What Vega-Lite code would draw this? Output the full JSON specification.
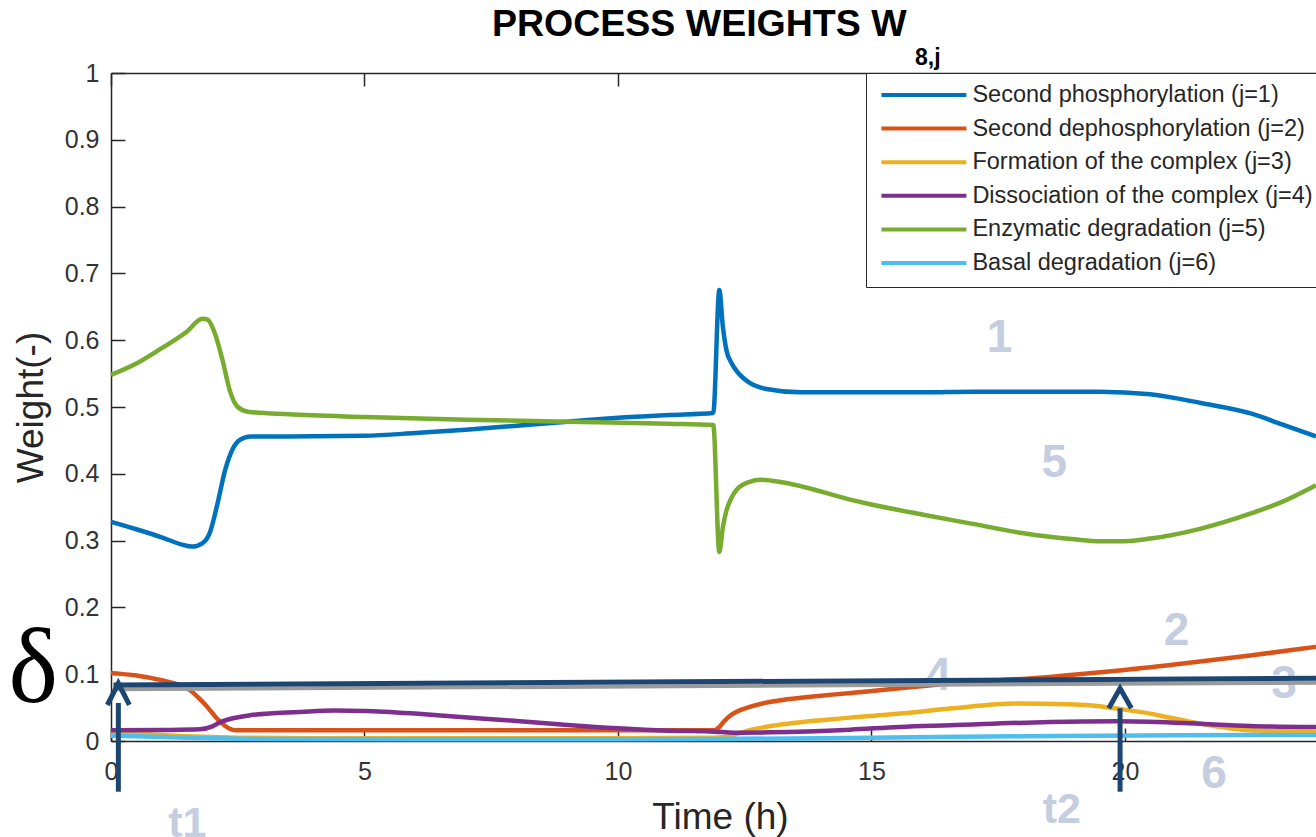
{
  "$schema": "https://vega.github.io/schema/vega-lite/v6.json",
  "autosize": {"type": "none"},
  "width": 1205,
  "height": 668,
  "padding": {"left": 111, "top": 73, "right": 0, "bottom": 96},
  "background": "white",
  "config": {"font": "Liberation Sans", "view": {"stroke": null}},
  "title": {"text": "PROCESS WEIGHTS W", "anchor": "start", "frame": "group", "dx": 381, "dy": 35, "fontSize": 37.5, "fontWeight": "bold", "color": "#000000", "font": "Liberation Sans", "baseline": "alphabetic", "offset": 8},
  "datasets": {
    "curves": [
      {"s": "Second phosphorylation (j=1)", "t": 0, "v": 0.328},
      {"s": "Second phosphorylation (j=1)", "t": 0.5, "v": 0.317},
      {"s": "Second phosphorylation (j=1)", "t": 1.0, "v": 0.305},
      {"s": "Second phosphorylation (j=1)", "t": 1.4, "v": 0.294},
      {"s": "Second phosphorylation (j=1)", "t": 1.6, "v": 0.291},
      {"s": "Second phosphorylation (j=1)", "t": 1.8, "v": 0.296},
      {"s": "Second phosphorylation (j=1)", "t": 1.95, "v": 0.312},
      {"s": "Second phosphorylation (j=1)", "t": 2.1, "v": 0.355},
      {"s": "Second phosphorylation (j=1)", "t": 2.25, "v": 0.405},
      {"s": "Second phosphorylation (j=1)", "t": 2.4, "v": 0.437},
      {"s": "Second phosphorylation (j=1)", "t": 2.55, "v": 0.451},
      {"s": "Second phosphorylation (j=1)", "t": 2.75, "v": 0.456},
      {"s": "Second phosphorylation (j=1)", "t": 3.5, "v": 0.456},
      {"s": "Second phosphorylation (j=1)", "t": 5, "v": 0.457},
      {"s": "Second phosphorylation (j=1)", "t": 6, "v": 0.461},
      {"s": "Second phosphorylation (j=1)", "t": 7, "v": 0.466},
      {"s": "Second phosphorylation (j=1)", "t": 8, "v": 0.472},
      {"s": "Second phosphorylation (j=1)", "t": 9, "v": 0.478},
      {"s": "Second phosphorylation (j=1)", "t": 10, "v": 0.484},
      {"s": "Second phosphorylation (j=1)", "t": 11, "v": 0.488},
      {"s": "Second phosphorylation (j=1)", "t": 11.88, "v": 0.491},
      {"s": "Second phosphorylation (j=1)", "t": 12.0, "v": 0.675},
      {"s": "Second phosphorylation (j=1)", "t": 12.07, "v": 0.62},
      {"s": "Second phosphorylation (j=1)", "t": 12.14, "v": 0.585},
      {"s": "Second phosphorylation (j=1)", "t": 12.24, "v": 0.566},
      {"s": "Second phosphorylation (j=1)", "t": 12.34, "v": 0.554},
      {"s": "Second phosphorylation (j=1)", "t": 12.6, "v": 0.536},
      {"s": "Second phosphorylation (j=1)", "t": 12.93, "v": 0.527},
      {"s": "Second phosphorylation (j=1)", "t": 13.6, "v": 0.522},
      {"s": "Second phosphorylation (j=1)", "t": 14.6, "v": 0.522},
      {"s": "Second phosphorylation (j=1)", "t": 16, "v": 0.522},
      {"s": "Second phosphorylation (j=1)", "t": 17, "v": 0.523},
      {"s": "Second phosphorylation (j=1)", "t": 18, "v": 0.523},
      {"s": "Second phosphorylation (j=1)", "t": 19, "v": 0.523},
      {"s": "Second phosphorylation (j=1)", "t": 19.5, "v": 0.523},
      {"s": "Second phosphorylation (j=1)", "t": 20.5, "v": 0.519},
      {"s": "Second phosphorylation (j=1)", "t": 21.5, "v": 0.506},
      {"s": "Second phosphorylation (j=1)", "t": 22.5, "v": 0.49},
      {"s": "Second phosphorylation (j=1)", "t": 23.1, "v": 0.474},
      {"s": "Second phosphorylation (j=1)", "t": 23.77, "v": 0.456},

      {"s": "Second dephosphorylation (j=2)", "t": 0, "v": 0.102},
      {"s": "Second dephosphorylation (j=2)", "t": 0.5, "v": 0.098},
      {"s": "Second dephosphorylation (j=2)", "t": 1.0, "v": 0.091},
      {"s": "Second dephosphorylation (j=2)", "t": 1.3, "v": 0.085},
      {"s": "Second dephosphorylation (j=2)", "t": 1.56, "v": 0.076},
      {"s": "Second dephosphorylation (j=2)", "t": 1.75, "v": 0.063},
      {"s": "Second dephosphorylation (j=2)", "t": 1.9, "v": 0.051},
      {"s": "Second dephosphorylation (j=2)", "t": 2.05, "v": 0.037},
      {"s": "Second dephosphorylation (j=2)", "t": 2.15, "v": 0.029},
      {"s": "Second dephosphorylation (j=2)", "t": 2.3, "v": 0.02},
      {"s": "Second dephosphorylation (j=2)", "t": 2.45, "v": 0.016},
      {"s": "Second dephosphorylation (j=2)", "t": 3, "v": 0.016},
      {"s": "Second dephosphorylation (j=2)", "t": 6, "v": 0.016},
      {"s": "Second dephosphorylation (j=2)", "t": 9, "v": 0.016},
      {"s": "Second dephosphorylation (j=2)", "t": 11.9, "v": 0.016},
      {"s": "Second dephosphorylation (j=2)", "t": 12.0, "v": 0.021},
      {"s": "Second dephosphorylation (j=2)", "t": 12.1, "v": 0.030},
      {"s": "Second dephosphorylation (j=2)", "t": 12.2, "v": 0.037},
      {"s": "Second dephosphorylation (j=2)", "t": 12.35, "v": 0.044},
      {"s": "Second dephosphorylation (j=2)", "t": 12.6, "v": 0.051},
      {"s": "Second dephosphorylation (j=2)", "t": 12.9, "v": 0.057},
      {"s": "Second dephosphorylation (j=2)", "t": 13.3, "v": 0.062},
      {"s": "Second dephosphorylation (j=2)", "t": 13.9, "v": 0.067},
      {"s": "Second dephosphorylation (j=2)", "t": 14.6, "v": 0.072},
      {"s": "Second dephosphorylation (j=2)", "t": 15.56, "v": 0.079},
      {"s": "Second dephosphorylation (j=2)", "t": 16.55, "v": 0.086},
      {"s": "Second dephosphorylation (j=2)", "t": 18.52, "v": 0.096},
      {"s": "Second dephosphorylation (j=2)", "t": 19.84, "v": 0.105},
      {"s": "Second dephosphorylation (j=2)", "t": 21.15, "v": 0.116},
      {"s": "Second dephosphorylation (j=2)", "t": 22.47, "v": 0.128},
      {"s": "Second dephosphorylation (j=2)", "t": 23.77, "v": 0.141},

      {"s": "Formation of the complex (j=3)", "t": 0, "v": 0.013},
      {"s": "Formation of the complex (j=3)", "t": 0.5, "v": 0.011},
      {"s": "Formation of the complex (j=3)", "t": 1.0, "v": 0.009},
      {"s": "Formation of the complex (j=3)", "t": 1.5, "v": 0.007},
      {"s": "Formation of the complex (j=3)", "t": 2.0, "v": 0.006},
      {"s": "Formation of the complex (j=3)", "t": 2.5, "v": 0.005},
      {"s": "Formation of the complex (j=3)", "t": 4, "v": 0.004},
      {"s": "Formation of the complex (j=3)", "t": 8, "v": 0.004},
      {"s": "Formation of the complex (j=3)", "t": 11.9, "v": 0.005},
      {"s": "Formation of the complex (j=3)", "t": 12.2, "v": 0.007},
      {"s": "Formation of the complex (j=3)", "t": 12.4, "v": 0.012},
      {"s": "Formation of the complex (j=3)", "t": 12.7, "v": 0.018},
      {"s": "Formation of the complex (j=3)", "t": 13.26, "v": 0.025},
      {"s": "Formation of the complex (j=3)", "t": 14.58, "v": 0.035},
      {"s": "Formation of the complex (j=3)", "t": 15.56, "v": 0.041},
      {"s": "Formation of the complex (j=3)", "t": 16.55, "v": 0.0485},
      {"s": "Formation of the complex (j=3)", "t": 17.87, "v": 0.056},
      {"s": "Formation of the complex (j=3)", "t": 18.85, "v": 0.055},
      {"s": "Formation of the complex (j=3)", "t": 19.5, "v": 0.052},
      {"s": "Formation of the complex (j=3)", "t": 19.84, "v": 0.0485},
      {"s": "Formation of the complex (j=3)", "t": 20.5, "v": 0.041},
      {"s": "Formation of the complex (j=3)", "t": 20.82, "v": 0.036},
      {"s": "Formation of the complex (j=3)", "t": 21.48, "v": 0.026},
      {"s": "Formation of the complex (j=3)", "t": 22.47, "v": 0.016},
      {"s": "Formation of the complex (j=3)", "t": 23.77, "v": 0.014},

      {"s": "Dissociation of the complex (j=4)", "t": 0, "v": 0.016},
      {"s": "Dissociation of the complex (j=4)", "t": 1.0, "v": 0.0165},
      {"s": "Dissociation of the complex (j=4)", "t": 1.75, "v": 0.0175},
      {"s": "Dissociation of the complex (j=4)", "t": 2.0, "v": 0.022},
      {"s": "Dissociation of the complex (j=4)", "t": 2.15, "v": 0.028},
      {"s": "Dissociation of the complex (j=4)", "t": 2.4, "v": 0.034},
      {"s": "Dissociation of the complex (j=4)", "t": 2.74, "v": 0.0385},
      {"s": "Dissociation of the complex (j=4)", "t": 3.2, "v": 0.0415},
      {"s": "Dissociation of the complex (j=4)", "t": 3.73, "v": 0.0435},
      {"s": "Dissociation of the complex (j=4)", "t": 4.4, "v": 0.0455},
      {"s": "Dissociation of the complex (j=4)", "t": 5, "v": 0.045},
      {"s": "Dissociation of the complex (j=4)", "t": 6, "v": 0.041},
      {"s": "Dissociation of the complex (j=4)", "t": 6.7, "v": 0.037},
      {"s": "Dissociation of the complex (j=4)", "t": 8, "v": 0.03},
      {"s": "Dissociation of the complex (j=4)", "t": 9, "v": 0.024},
      {"s": "Dissociation of the complex (j=4)", "t": 10, "v": 0.019},
      {"s": "Dissociation of the complex (j=4)", "t": 11, "v": 0.0155},
      {"s": "Dissociation of the complex (j=4)", "t": 11.9, "v": 0.014},
      {"s": "Dissociation of the complex (j=4)", "t": 12.3, "v": 0.0125},
      {"s": "Dissociation of the complex (j=4)", "t": 13, "v": 0.013},
      {"s": "Dissociation of the complex (j=4)", "t": 14.58, "v": 0.017},
      {"s": "Dissociation of the complex (j=4)", "t": 15.56, "v": 0.021},
      {"s": "Dissociation of the complex (j=4)", "t": 16.55, "v": 0.0235},
      {"s": "Dissociation of the complex (j=4)", "t": 18.52, "v": 0.0285},
      {"s": "Dissociation of the complex (j=4)", "t": 19.84, "v": 0.0295},
      {"s": "Dissociation of the complex (j=4)", "t": 21.15, "v": 0.027},
      {"s": "Dissociation of the complex (j=4)", "t": 22.47, "v": 0.0225},
      {"s": "Dissociation of the complex (j=4)", "t": 23.77, "v": 0.021},

      {"s": "Enzymatic degradation (j=5)", "t": 0, "v": 0.548},
      {"s": "Enzymatic degradation (j=5)", "t": 0.5, "v": 0.565},
      {"s": "Enzymatic degradation (j=5)", "t": 1.0, "v": 0.588},
      {"s": "Enzymatic degradation (j=5)", "t": 1.5, "v": 0.613},
      {"s": "Enzymatic degradation (j=5)", "t": 1.8, "v": 0.632},
      {"s": "Enzymatic degradation (j=5)", "t": 1.9, "v": 0.631},
      {"s": "Enzymatic degradation (j=5)", "t": 2.05, "v": 0.61},
      {"s": "Enzymatic degradation (j=5)", "t": 2.2, "v": 0.57},
      {"s": "Enzymatic degradation (j=5)", "t": 2.35, "v": 0.523},
      {"s": "Enzymatic degradation (j=5)", "t": 2.5, "v": 0.5},
      {"s": "Enzymatic degradation (j=5)", "t": 2.7, "v": 0.493},
      {"s": "Enzymatic degradation (j=5)", "t": 3.5, "v": 0.489},
      {"s": "Enzymatic degradation (j=5)", "t": 5, "v": 0.485},
      {"s": "Enzymatic degradation (j=5)", "t": 7, "v": 0.481},
      {"s": "Enzymatic degradation (j=5)", "t": 9, "v": 0.478},
      {"s": "Enzymatic degradation (j=5)", "t": 11, "v": 0.475},
      {"s": "Enzymatic degradation (j=5)", "t": 11.88, "v": 0.473},
      {"s": "Enzymatic degradation (j=5)", "t": 12.0, "v": 0.283},
      {"s": "Enzymatic degradation (j=5)", "t": 12.07, "v": 0.32},
      {"s": "Enzymatic degradation (j=5)", "t": 12.14, "v": 0.345},
      {"s": "Enzymatic degradation (j=5)", "t": 12.24, "v": 0.364},
      {"s": "Enzymatic degradation (j=5)", "t": 12.34, "v": 0.376},
      {"s": "Enzymatic degradation (j=5)", "t": 12.6, "v": 0.388},
      {"s": "Enzymatic degradation (j=5)", "t": 12.8, "v": 0.391},
      {"s": "Enzymatic degradation (j=5)", "t": 13.26, "v": 0.387},
      {"s": "Enzymatic degradation (j=5)", "t": 14.6, "v": 0.361},
      {"s": "Enzymatic degradation (j=5)", "t": 15, "v": 0.354},
      {"s": "Enzymatic degradation (j=5)", "t": 16, "v": 0.339},
      {"s": "Enzymatic degradation (j=5)", "t": 17, "v": 0.325},
      {"s": "Enzymatic degradation (j=5)", "t": 18, "v": 0.311},
      {"s": "Enzymatic degradation (j=5)", "t": 19, "v": 0.302},
      {"s": "Enzymatic degradation (j=5)", "t": 19.5, "v": 0.299},
      {"s": "Enzymatic degradation (j=5)", "t": 20, "v": 0.299},
      {"s": "Enzymatic degradation (j=5)", "t": 20.5, "v": 0.303},
      {"s": "Enzymatic degradation (j=5)", "t": 21.5, "v": 0.318},
      {"s": "Enzymatic degradation (j=5)", "t": 22.5, "v": 0.341},
      {"s": "Enzymatic degradation (j=5)", "t": 23.1, "v": 0.358},
      {"s": "Enzymatic degradation (j=5)", "t": 23.77, "v": 0.383},

      {"s": "Basal degradation (j=6)", "t": 0, "v": 0.008},
      {"s": "Basal degradation (j=6)", "t": 1, "v": 0.006},
      {"s": "Basal degradation (j=6)", "t": 2, "v": 0.004},
      {"s": "Basal degradation (j=6)", "t": 3, "v": 0.003},
      {"s": "Basal degradation (j=6)", "t": 6, "v": 0.0025},
      {"s": "Basal degradation (j=6)", "t": 10, "v": 0.0025},
      {"s": "Basal degradation (j=6)", "t": 12, "v": 0.003},
      {"s": "Basal degradation (j=6)", "t": 15, "v": 0.005},
      {"s": "Basal degradation (j=6)", "t": 18, "v": 0.007},
      {"s": "Basal degradation (j=6)", "t": 21, "v": 0.0085},
      {"s": "Basal degradation (j=6)", "t": 23.77, "v": 0.009}
    ],
    "digits": [
      {"label": "1", "t": 17.53, "v": 0.5828},
      {"label": "5", "t": 18.61, "v": 0.3957},
      {"label": "2", "t": 21.02, "v": 0.1437},
      {"label": "3", "t": 23.14, "v": 0.0644},
      {"label": "4", "t": 16.32, "v": 0.0763},
      {"label": "6", "t": 21.76, "v": -0.0708}
    ],
    "tlabels": [
      {"label": "t1", "t": 1.505, "v": -0.1433},
      {"label": "t2", "t": 18.755, "v": -0.1228}
    ],
    "delta": [{"label": "δ", "t": -1.533, "v": 0.0588}],
    "sub": [{"label": "8,j", "t": 15.86, "v": 1.012}],
    "grayline": [
      {"seg": "g", "k": 0, "t": 0.05, "v": 0.0774},
      {"seg": "g", "k": 1, "t": 23.77, "v": 0.0873}
    ],
    "navy": [
      {"seg": "h", "k": 0, "t": 0.05, "v": 0.0838},
      {"seg": "h", "k": 1, "t": 23.77, "v": 0.0939},
      {"seg": "s1", "k": 0, "t": 0.145, "v": 0.0569},
      {"seg": "s1", "k": 1, "t": 0.145, "v": -0.0759},
      {"seg": "c1", "k": 0, "t": -0.072, "v": 0.0539},
      {"seg": "c1", "k": 1, "t": 0.145, "v": 0.0864},
      {"seg": "c1", "k": 2, "t": 0.362, "v": 0.0539},
      {"seg": "s2", "k": 0, "t": 19.905, "v": 0.049},
      {"seg": "s2", "k": 1, "t": 19.905, "v": -0.0759},
      {"seg": "c2", "k": 0, "t": 19.682, "v": 0.049},
      {"seg": "c2", "k": 1, "t": 19.905, "v": 0.0789},
      {"seg": "c2", "k": 2, "t": 20.128, "v": 0.049}
    ]
  },
  "encoding": {
    "y": {
      "field": "v", "type": "quantitative",
      "scale": {"domain": [0, 1], "nice": false, "zero": false},
      "axis": {
        "title": "Weight(-)", "values": [0, 0.1, 0.2, 0.3, 0.4, 0.5, 0.6, 0.7, 0.8, 0.9, 1],
        "format": "~g", "grid": false, "tickSize": -14, "tickWidth": 1.5, "tickColor": "#262626",
        "domainColor": "#262626", "domainWidth": 1.5, "labelFontSize": 25, "labelColor": "#333333",
        "labelPadding": 26, "labelFlush": false, "labelOverlap": false, "labelFont": "Liberation Sans",
        "titleFont": "Liberation Sans", "titleFontSize": 37, "titleFontWeight": "normal", "titleColor": "#262626",
        "titleX": -69, "titleY": 334, "titleAngle": -90, "titleAlign": "center", "titleBaseline": "alphabetic"
      }
    }
  },
  "layer": [
    {
      "data": {"name": "curves"},
      "mark": {"type": "line", "strokeWidth": 4.5, "interpolate": "monotone"},
      "encoding": {
        "x": {
          "field": "t", "type": "quantitative",
          "scale": {"domain": [0, 23.77], "nice": false, "zero": false},
          "axis": {
            "orient": "bottom", "title": "Time (h)", "values": [0, 5, 10, 15, 20], "format": "d",
            "grid": false, "tickSize": -13, "tickWidth": 1.5, "tickColor": "#262626",
            "domainColor": "#262626", "domainWidth": 1.5, "labelFontSize": 25, "labelColor": "#333333",
            "labelPadding": 31, "labelFlush": false, "labelOverlap": false, "labelFont": "Liberation Sans",
            "titleFont": "Liberation Sans", "titleFontSize": 37, "titleFontWeight": "normal", "titleColor": "#262626",
            "titleX": 609, "titleY": 87.3, "titleAlign": "center", "titleBaseline": "alphabetic"
          }
        },
        "color": {
          "field": "s", "type": "nominal",
          "scale": {
            "domain": ["Second phosphorylation (j=1)", "Second dephosphorylation (j=2)", "Formation of the complex (j=3)", "Dissociation of the complex (j=4)", "Enzymatic degradation (j=5)", "Basal degradation (j=6)"],
            "range": ["#0072BD", "#D95319", "#EDB120", "#7E2F8E", "#77AC30", "#4DBEEE"]
          },
          "legend": {
            "orient": "none", "legendX": 755, "legendY": 0, "title": null, "direction": "vertical",
            "symbolType": "stroke", "symbolSize": 7225, "symbolStrokeWidth": 4,
            "labelFontSize": 23.5, "labelColor": "#262626", "labelFont": "Liberation Sans", "labelLimit": 600,
            "padding": 12, "rowPadding": 9.6, "clipHeight": 20, "labelOffset": 4, "symbolOffset": 1.4,
            "strokeColor": "#262626", "fillColor": "#ffffff"
          }
        }
      }
    },
    {
      "data": {"name": "digits"},
      "mark": {"type": "text", "fontSize": 46, "fontWeight": "bold", "color": "#c5cde0", "align": "center", "baseline": "alphabetic", "font": "Liberation Sans"},
      "encoding": {
        "x": {"field": "t", "type": "quantitative", "scale": {"domain": [0, 23.77], "nice": false, "zero": false}, "axis": null},
        "text": {"field": "label"}
      }
    },
    {
      "data": {"name": "tlabels"},
      "mark": {"type": "text", "fontSize": 43, "fontWeight": "bold", "color": "#c5cde0", "align": "center", "baseline": "alphabetic", "font": "Liberation Sans"},
      "encoding": {
        "x": {"field": "t", "type": "quantitative", "scale": {"domain": [0, 23.77], "nice": false, "zero": false}, "axis": null},
        "text": {"field": "label"}
      }
    },
    {
      "data": {"name": "delta"},
      "mark": {"type": "text", "fontSize": 105, "color": "#000000", "align": "center", "baseline": "alphabetic", "font": "Liberation Serif"},
      "encoding": {
        "x": {"field": "t", "type": "quantitative", "scale": {"domain": [0, 23.77], "nice": false, "zero": false}, "axis": null},
        "text": {"field": "label"}
      }
    },
    {
      "data": {"name": "sub"},
      "mark": {"type": "text", "fontSize": 23, "fontWeight": "bold", "color": "#000000", "align": "left", "baseline": "alphabetic", "font": "Liberation Sans"},
      "encoding": {
        "x": {"field": "t", "type": "quantitative", "scale": {"domain": [0, 23.77], "nice": false, "zero": false}, "axis": null},
        "text": {"field": "label"}
      }
    },
    {
      "data": {"name": "grayline"},
      "mark": {"type": "line", "strokeWidth": 4, "color": "#9a9a9a"},
      "encoding": {
        "x": {
          "field": "t", "type": "quantitative", "scale": {"domain": [0, 23.77], "nice": false, "zero": false},
          "axis": {"orient": "top", "labels": false, "title": null, "values": [0, 5, 10, 15, 20], "grid": false,
                   "tickSize": -13, "tickWidth": 1.5, "tickColor": "#262626", "domainColor": "#262626", "domainWidth": 1.5}
        },
        "detail": {"field": "seg"},
        "order": {"field": "k"}
      }
    },
    {
      "data": {"name": "navy"},
      "mark": {"type": "line", "strokeWidth": 5, "color": "#1d4571", "strokeCap": "butt"},
      "encoding": {
        "x": {"field": "t", "type": "quantitative", "scale": {"domain": [0, 23.77], "nice": false, "zero": false}, "axis": null},
        "detail": {"field": "seg"},
        "order": {"field": "k"}
      }
    }
  ],
  "resolve": {"axis": {"x": "independent"}}
}
